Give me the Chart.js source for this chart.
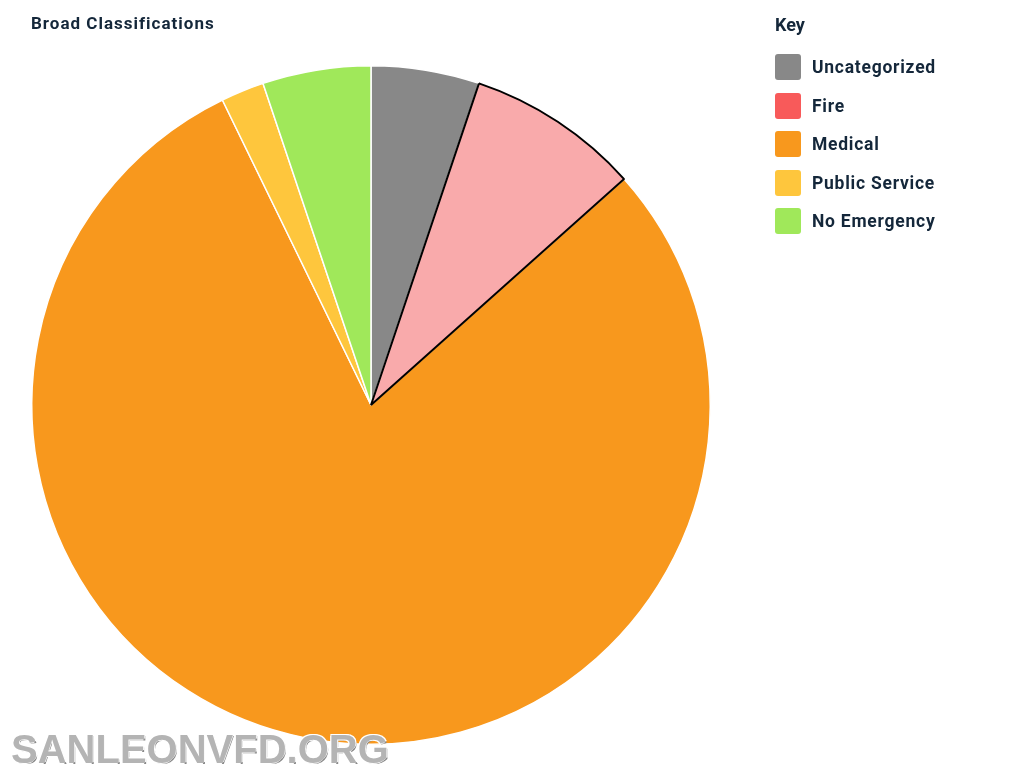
<!DOCTYPE html>
<html>
<head>
<meta charset="utf-8">
<script src="https://cdn.jsdelivr.net/npm/chart.js@4.4.1/dist/chart.umd.min.js"></script>
<style>
  html, body { margin: 0; padding: 0; background: #fff; }
  #wrap { position: relative; width: 1024px; height: 775px; overflow: hidden; }
  #pie { position: absolute; left: 0; top: 0; }
  .txt { font-family: Roboto, "DejaVu Sans", sans-serif; font-weight: 700; color: #14273a; }
  #title { position: absolute; left: 31px; top: 13px; font-size: 17px; letter-spacing: 1px; }
  #keyTitle { position: absolute; left: 775px; top: 14px; font-size: 18px; }
  #legend { position: absolute; left: 775px; top: 54px; }
  .item { height: 38.5px; display: flex; align-items: flex-start; }
  .box { width: 26px; height: 26px; border-radius: 3px; margin-right: 11px; }
  .lbl { font-size: 17.5px; letter-spacing: 0.75px; line-height: 27px; }
  #mark { position: absolute; left: 11px; top: 727px; font-family: "Liberation Sans", Arial, sans-serif;
          font-weight: 700; font-size: 40px; color: #b4b4b4; letter-spacing: 0px;
          text-shadow: -1px -1px 0 #fff, 1px -1px 0 #fff, -1px 1px 0 #fff, 1px 1px 0 #888; }
</style>
</head>
<body>
<div id="wrap">
  <canvas id="pie" width="1024" height="775"></canvas>
  <div id="title" class="txt">Broad Classifications</div>
  <div id="keyTitle" class="txt">Key</div>
  <div id="legend" class="txt"></div>
  <div id="mark">SANLEONVFD.ORG</div>
</div>
<script>
const categories = ['Uncategorized', 'Fire', 'Medical', 'Public Service', 'No Emergency'];
const counts = [5, 8, 77, 2, 5];
const colors = ['#888888', '#f85a5a', '#f8981d', '#fec63d', '#a0e85a'];
const hoverColors = ['#b8b8b8', '#f9aaab', '#fbc07a', '#fedc8a', '#c6f19c'];

const ctx = document.getElementById('pie');
const pieChart = new Chart(ctx, {
    type: 'pie',
    data: {
        labels: categories,
        datasets: [{
            data: counts,
            backgroundColor: colors,
            hoverBackgroundColor: hoverColors,
            borderColor: '#ffffff',
            hoverBorderColor: '#000000',
            borderWidth: 1.5,
            hoverBorderWidth: 2,
            hoverOffset: 0
        }]
    },
    options: {
        responsive: false,
        animation: false,
        events: [],
        layout: {
            padding: { left: 31, top: 65, right: 313, bottom: 30 }
        },
        plugins: {
            legend: { display: false },
            title: { display: false },
            tooltip: { enabled: false }
        }
    }
});

// the Fire slice is shown highlighted in the picture
pieChart.setActiveElements([{ datasetIndex: 0, index: 1 }]);
pieChart.update('none');

// legend built from the chart's own labels
const legend = document.getElementById('legend');
const items = pieChart.options.plugins.legend.labels.generateLabels(pieChart);
items.forEach((it, i) => {
    const row = document.createElement('div');
    row.className = 'item';
    const box = document.createElement('div');
    box.className = 'box';
    box.style.background = colors[i];
    const lbl = document.createElement('div');
    lbl.className = 'lbl';
    lbl.textContent = it.text;
    row.appendChild(box);
    row.appendChild(lbl);
    legend.appendChild(row);
});
</script>
</body>
</html>
